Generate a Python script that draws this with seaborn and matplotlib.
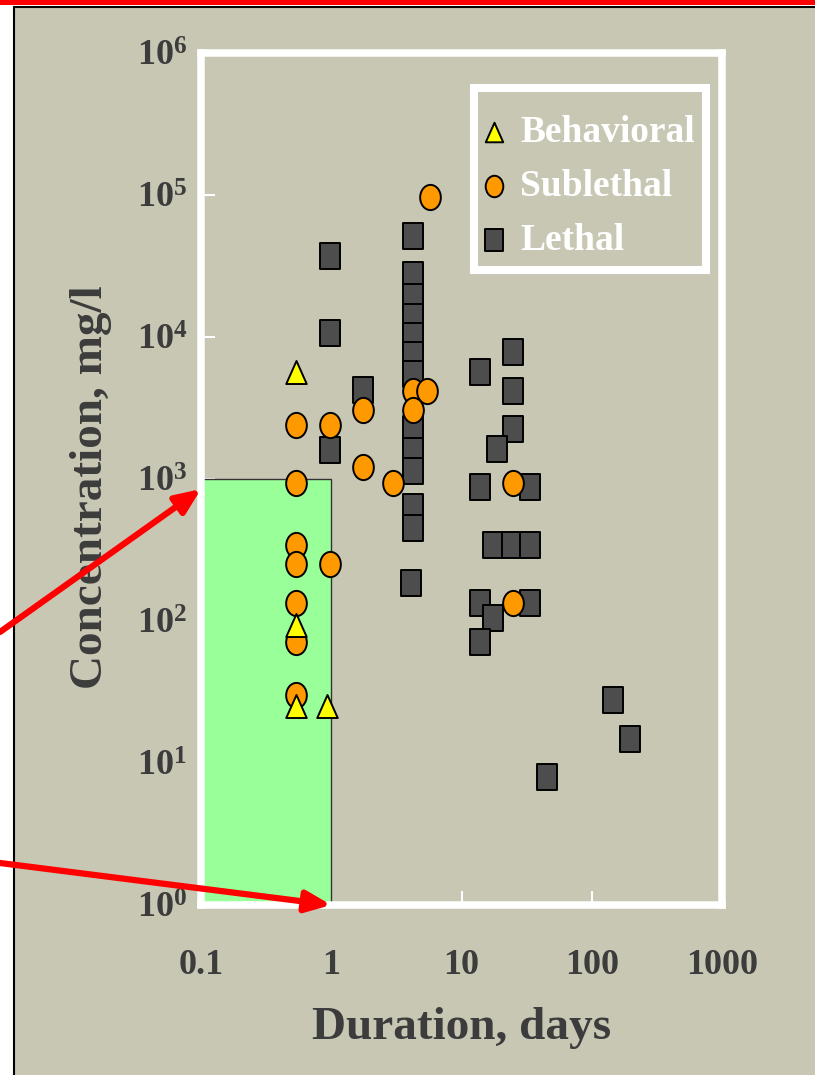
import matplotlib
matplotlib.use("Agg")
import matplotlib.pyplot as plt
import seaborn as sns
from matplotlib.path import Path
from matplotlib.patches import Rectangle
from matplotlib.transforms import Affine2D
from matplotlib.ticker import FixedLocator, FixedFormatter, NullLocator

# ---- data: exposure duration (days) vs. concentration (mg/l) ----
behavioral_days = [0.54, 0.54, 0.54, 0.92]
behavioral_conc = [5670, 94, 25, 25]

sublethal_days = [5.73, 0.54, 0.98, 1.76, 4.25, 5.41, 4.25, 1.76, 3.0,
                  0.54, 0.54, 0.54, 0.98, 0.54, 0.54, 0.54, 24.8, 24.8]
sublethal_conc = [97000, 2400, 2400, 3060, 4190, 4190, 3060, 1215, 933,
                  933, 343, 251, 251, 133, 71.5, 30.1, 933, 133]

lethal_days = [0.98, 0.98, 0.98, 1.76,
               4.25, 4.25, 4.25, 4.25, 4.25, 4.25, 4.25, 4.25, 4.25, 4.25, 4.25, 4.25,
               4.09, 24.8, 13.9, 24.8, 24.8, 18.7, 13.9, 33.6, 17.5, 24.4, 33.6,
               13.9, 33.6, 17.5, 13.9, 146, 197, 45.3]
lethal_conc = [37400, 10700, 1600, 4240,
               51700, 27300, 19200, 13900, 10200, 7470, 5490, 2240, 1570, 1140, 638, 450,
               184, 7840, 5670, 4170, 2250, 1630, 879, 879, 343, 343, 343,
               133, 133, 105, 71.1, 27.8, 14.8, 7.97]

categories = ["Behavioral", "Sublethal", "Lethal"]

# shaded reference window (days, mg/l)
window_days = (0.1, 1.0)
window_conc = (1.0, 1000.0)

# arrow targets in data units
arrow_targets = [(0.1, 850.0), (1.0, 1.0)]

x_ticks = [0.1, 1, 10, 100, 1000]
x_tick_labels = ["0.1", "1", "10", "100", "1000"]
y_exponents = [0, 1, 2, 3, 4, 5, 6]

# ---- style ----
BEIGE = "#C8C7B4"
TEXT = "#3C3C3C"
FILL = {"Behavioral": "#FFFF00", "Sublethal": "#FF9900", "Lethal": "#4D4D4D"}

sns.set_theme(style="ticks")
plt.rcParams["font.family"] = ["Liberation Serif", "DejaVu Serif"]
plt.rcParams["font.weight"] = "bold"
plt.rcParams["mathtext.fontset"] = "custom"
plt.rcParams["mathtext.rm"] = "Liberation Serif:bold"
plt.rcParams["mathtext.bf"] = "Liberation Serif:bold"

# slightly tall marker shapes
square = Path([(-0.41, -0.5), (0.41, -0.5), (0.41, 0.5), (-0.41, 0.5), (-0.41, -0.5)],
              [Path.MOVETO, Path.LINETO, Path.LINETO, Path.LINETO, Path.CLOSEPOLY])
ellipse = Affine2D().scale(0.82, 1.0).transform_path(Path.unit_circle())
triangle = Path([(0, 1), (-0.89, -1), (0.89, -1), (0, 1)],
                [Path.MOVETO, Path.LINETO, Path.LINETO, Path.CLOSEPOLY])
MARKER = {"Behavioral": triangle, "Sublethal": ellipse, "Lethal": square}
SIZE = {"Behavioral": 275, "Sublethal": 330, "Lethal": 330}

W, H = 815, 1075
fig = plt.figure(figsize=(W / 100, H / 100), dpi=100)
fig.patch.set_facecolor("white")

# slide panel with black border and red strip along the top
fig.add_artist(Rectangle((13.5 / W, -0.05), 1.2, 1 - 6.5 / H + 0.05,
                         transform=fig.transFigure, facecolor=BEIGE,
                         edgecolor="black", lw=1.5, zorder=-10))
fig.add_artist(Rectangle((0, 1 - 4.5 / H), 1, 4.5 / H, transform=fig.transFigure,
                         facecolor="red", edgecolor="none", zorder=-9))

ax = fig.add_axes([201 / W, 1 - 905 / H, 521 / W, 852 / H])
ax.set_facecolor("none")

ax.add_patch(Rectangle((window_days[0], window_conc[0]),
                       window_days[1] - window_days[0], window_conc[1] - window_conc[0],
                       facecolor="#99FF99", edgecolor="#333333", lw=1.0, zorder=1))

series = {
    "Lethal": (lethal_days, lethal_conc),
    "Sublethal": (sublethal_days, sublethal_conc),
    "Behavioral": (behavioral_days, behavioral_conc),
}
for name, (xs, ys) in series.items():
    sns.scatterplot(x=xs, y=ys, ax=ax, marker=MARKER[name], s=SIZE[name],
                    color=FILL[name], edgecolor="black", linewidth=1.4,
                    label=name, legend=False, zorder=3)

ax.set_xscale("log")
ax.set_yscale("log")
ax.set_xlim(0.1, 1000)
ax.set_ylim(1, 1e6)

ax.xaxis.set_major_locator(FixedLocator(x_ticks))
ax.xaxis.set_major_formatter(FixedFormatter(x_tick_labels))
ax.yaxis.set_major_locator(FixedLocator([10.0 ** e for e in y_exponents]))
ax.yaxis.set_major_formatter(FixedFormatter([r"$\mathregular{10^{%d}}$" % e for e in y_exponents]))
ax.xaxis.set_minor_locator(NullLocator())
ax.yaxis.set_minor_locator(NullLocator())

ax.tick_params(axis="both", direction="in", length=10, width=1.5, color="white",
               labelsize=26, labelcolor=TEXT, top=False, right=False)
ax.tick_params(axis="x", pad=32)
ax.tick_params(axis="y", pad=10)
for lab in ax.get_xticklabels() + ax.get_yticklabels():
    lab.set_fontweight("bold")

for sp in ax.spines.values():
    sp.set_color("white")
    sp.set_linewidth(5.4)
    sp.set_zorder(2.5)

ax.set_xlabel("Duration, days", fontsize=34, color=TEXT, fontweight="bold")
ax.set_ylabel("Concentration, mg/l", fontsize=34, color=TEXT, fontweight="bold")
ax.xaxis.set_label_coords(0.5, -0.12)
ax.yaxis.set_label_coords(-0.17, 0.49)

# legend box: white frame drawn separately, entries placed inside it
ax.add_patch(Rectangle((0.524, 0.745), 0.445, 0.214, transform=ax.transAxes,
                       facecolor="none", edgecolor="white", lw=5.8, zorder=4,
                       clip_on=False))
handles, labels = ax.get_legend_handles_labels()
order = [labels.index(c) for c in categories]
leg = ax.legend([handles[i] for i in order], [labels[i] for i in order],
                loc="upper left", bbox_to_anchor=(0.541, 0.927), borderaxespad=0,
                frameon=False, labelcolor="white",
                prop={"family": "Liberation Serif", "weight": "bold", "size": 27},
                markerscale=0.85, handlelength=0.6, handletextpad=0.39,
                borderpad=0, labelspacing=0.5)

# red pointer arrows coming in from the left margin
arrow_starts = [(0.0, 1 - 632 / H), (0.0, 1 - 863 / H)]
for start, target in zip(arrow_starts, arrow_targets):
    ax.annotate("", xy=target, xycoords="data", xytext=start,
                textcoords="figure fraction", annotation_clip=False,
                arrowprops=dict(arrowstyle="-|>,head_length=0.75,head_width=0.32",
                                mutation_scale=20, color="red", lw=4.5,
                                shrinkA=0, shrinkB=0),
                zorder=5)

fig.savefig("out.png", dpi=100, facecolor=fig.get_facecolor())
